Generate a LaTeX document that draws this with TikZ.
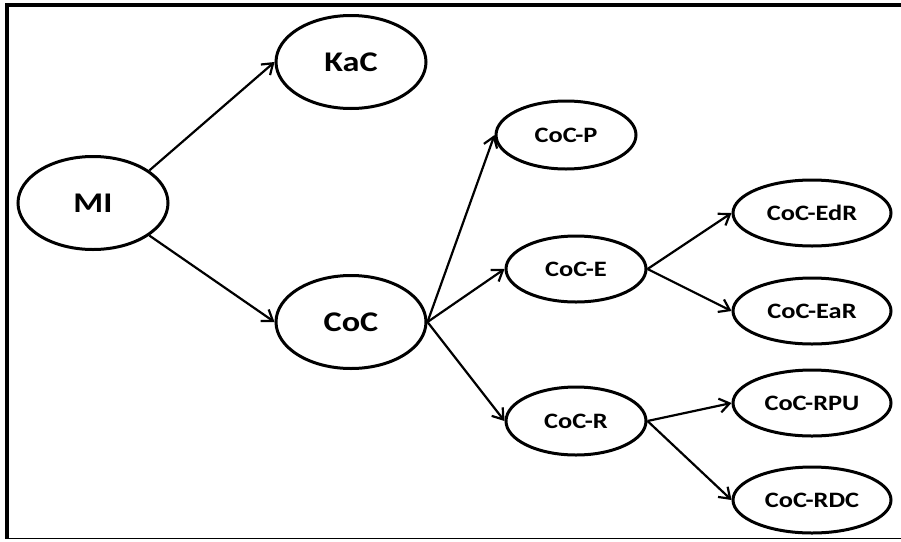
\documentclass[tikz,border=0pt]{standalone}
\usepackage{fontspec}
\setmainfont{Carlito}[FakeStretch=1.2]
\usetikzlibrary{shapes.geometric,arrows.meta}
\begin{document}
\begin{tikzpicture}[x=1pt,y=-1pt,
  big/.style={ellipse,draw,line width=3pt,minimum width=150pt,minimum height=93pt,inner sep=0pt,font=\fontsize{28.5}{30}\selectfont\bfseries},
  small/.style={ellipse,draw,line width=3pt,minimum width=140pt,minimum height=68pt,inner sep=0pt,font=\fontsize{22}{24}\selectfont\bfseries},
  wide/.style={small,minimum width=158pt,minimum height=66pt},
  conn/.style={line width=2.2pt,-{Straight Barb[length=10pt,width=14pt,line width=2.2pt]}}]
\useasboundingbox (0,0) rectangle (901,541);
\fill[white] (0,0) rectangle (901,541);
\draw[line width=4pt] (5,4.5) -- (901,4.5);
\draw[line width=4pt] (6.5,3) -- (6.5,539);
\draw[line width=1.5pt] (5,538.5) -- (901,538.5);
\node[big] (mi) at (93,203) {MI};
\node[big] (kac) at (351,62) {KaC};
\node[big] (coc) at (351,322) {CoC};
\node[small] (p) at (566,135) {CoC-P};
\node[small,minimum height=66pt] (e) at (576,269) {CoC-E};
\node[small,minimum height=68pt] (r) at (576,421) {CoC-R};
\node[wide] (edr) at (812,213) {CoC-EdR};
\node[wide] (ear) at (812,311) {CoC-EaR};
\node[wide] (rpu) at (812,403) {CoC-RPU};
\node[wide] (rdc) at (812,500) {CoC-RDC};
\draw[conn] (mi.30) -- (kac.west);
\draw[conn] (mi.-30) -- (coc.west);
\draw[conn] (coc.east) -- (p.west);
\draw[conn] (coc.east) -- (e.west);
\draw[conn] (coc.east) -- (r.west);
\draw[conn] (e.east) -- (edr.west);
\draw[conn] (e.east) -- (ear.west);
\draw[conn] (r.east) -- (rpu.west);
\draw[conn] (r.east) -- (rdc.west);
\end{tikzpicture}
\end{document}
